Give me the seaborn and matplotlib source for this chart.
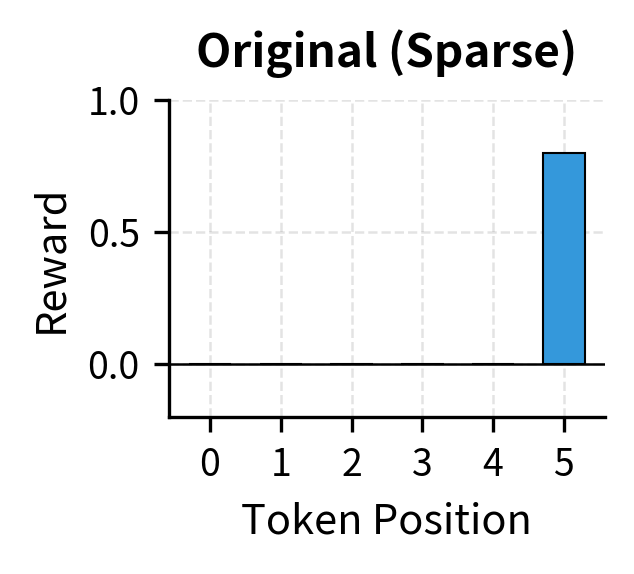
import numpy as np
import pandas as pd
import matplotlib
matplotlib.use('Agg')
import matplotlib.pyplot as plt
import seaborn as sns

# Data
positions = [0, 1, 2, 3, 4, 5]
rewards = [0.0, 0.0, 0.0, 0.0, 0.0, 0.8]
title = 'Original (Sparse)'

sns.set_style('white')
plt.rcParams['font.family'] = ['Noto Sans CJK JP', 'DejaVu Sans']
plt.rcParams['text.color'] = 'black'
plt.rcParams['axes.labelcolor'] = 'black'
plt.rcParams['xtick.color'] = 'black'
plt.rcParams['ytick.color'] = 'black'

df = pd.DataFrame({'position': positions, 'reward': rewards})

fig = plt.figure(figsize=(634 / 300, 574 / 300), dpi=300)
ax = fig.add_axes([0.2666, 0.2735, 0.6874, 0.5523])

sns.barplot(data=df, x='position', y='reward', width=0.6, color='#3498db',
            saturation=1, edgecolor='black', linewidth=0.5, ax=ax, zorder=2)
ax.axhline(0, color='black', linewidth=0.6, zorder=3)

ax.set_xlim(-0.58, 5.58)
ax.set_ylim(-0.2, 1.0)
ax.set_yticks([0.0, 0.5, 1.0])
ax.grid(True, linestyle='--', color='gray', alpha=0.22, linewidth=0.6)
ax.set_axisbelow(True)
sns.despine(ax=ax)
for s in ['left', 'bottom']:
    ax.spines[s].set_linewidth(0.8)
    ax.spines[s].set_color('black')
ax.tick_params(axis='both', which='major', labelsize=9, length=3.5, width=0.8,
               color='black', labelcolor='black', left=True, bottom=True)

ax.set_title(title, fontsize=11, fontweight='bold', pad=8, color='black')
ax.set_xlabel('Token Position', fontsize=10, color='black')
ax.set_ylabel('Reward', fontsize=10, color='black')

fig.savefig('out.png', dpi=300)
